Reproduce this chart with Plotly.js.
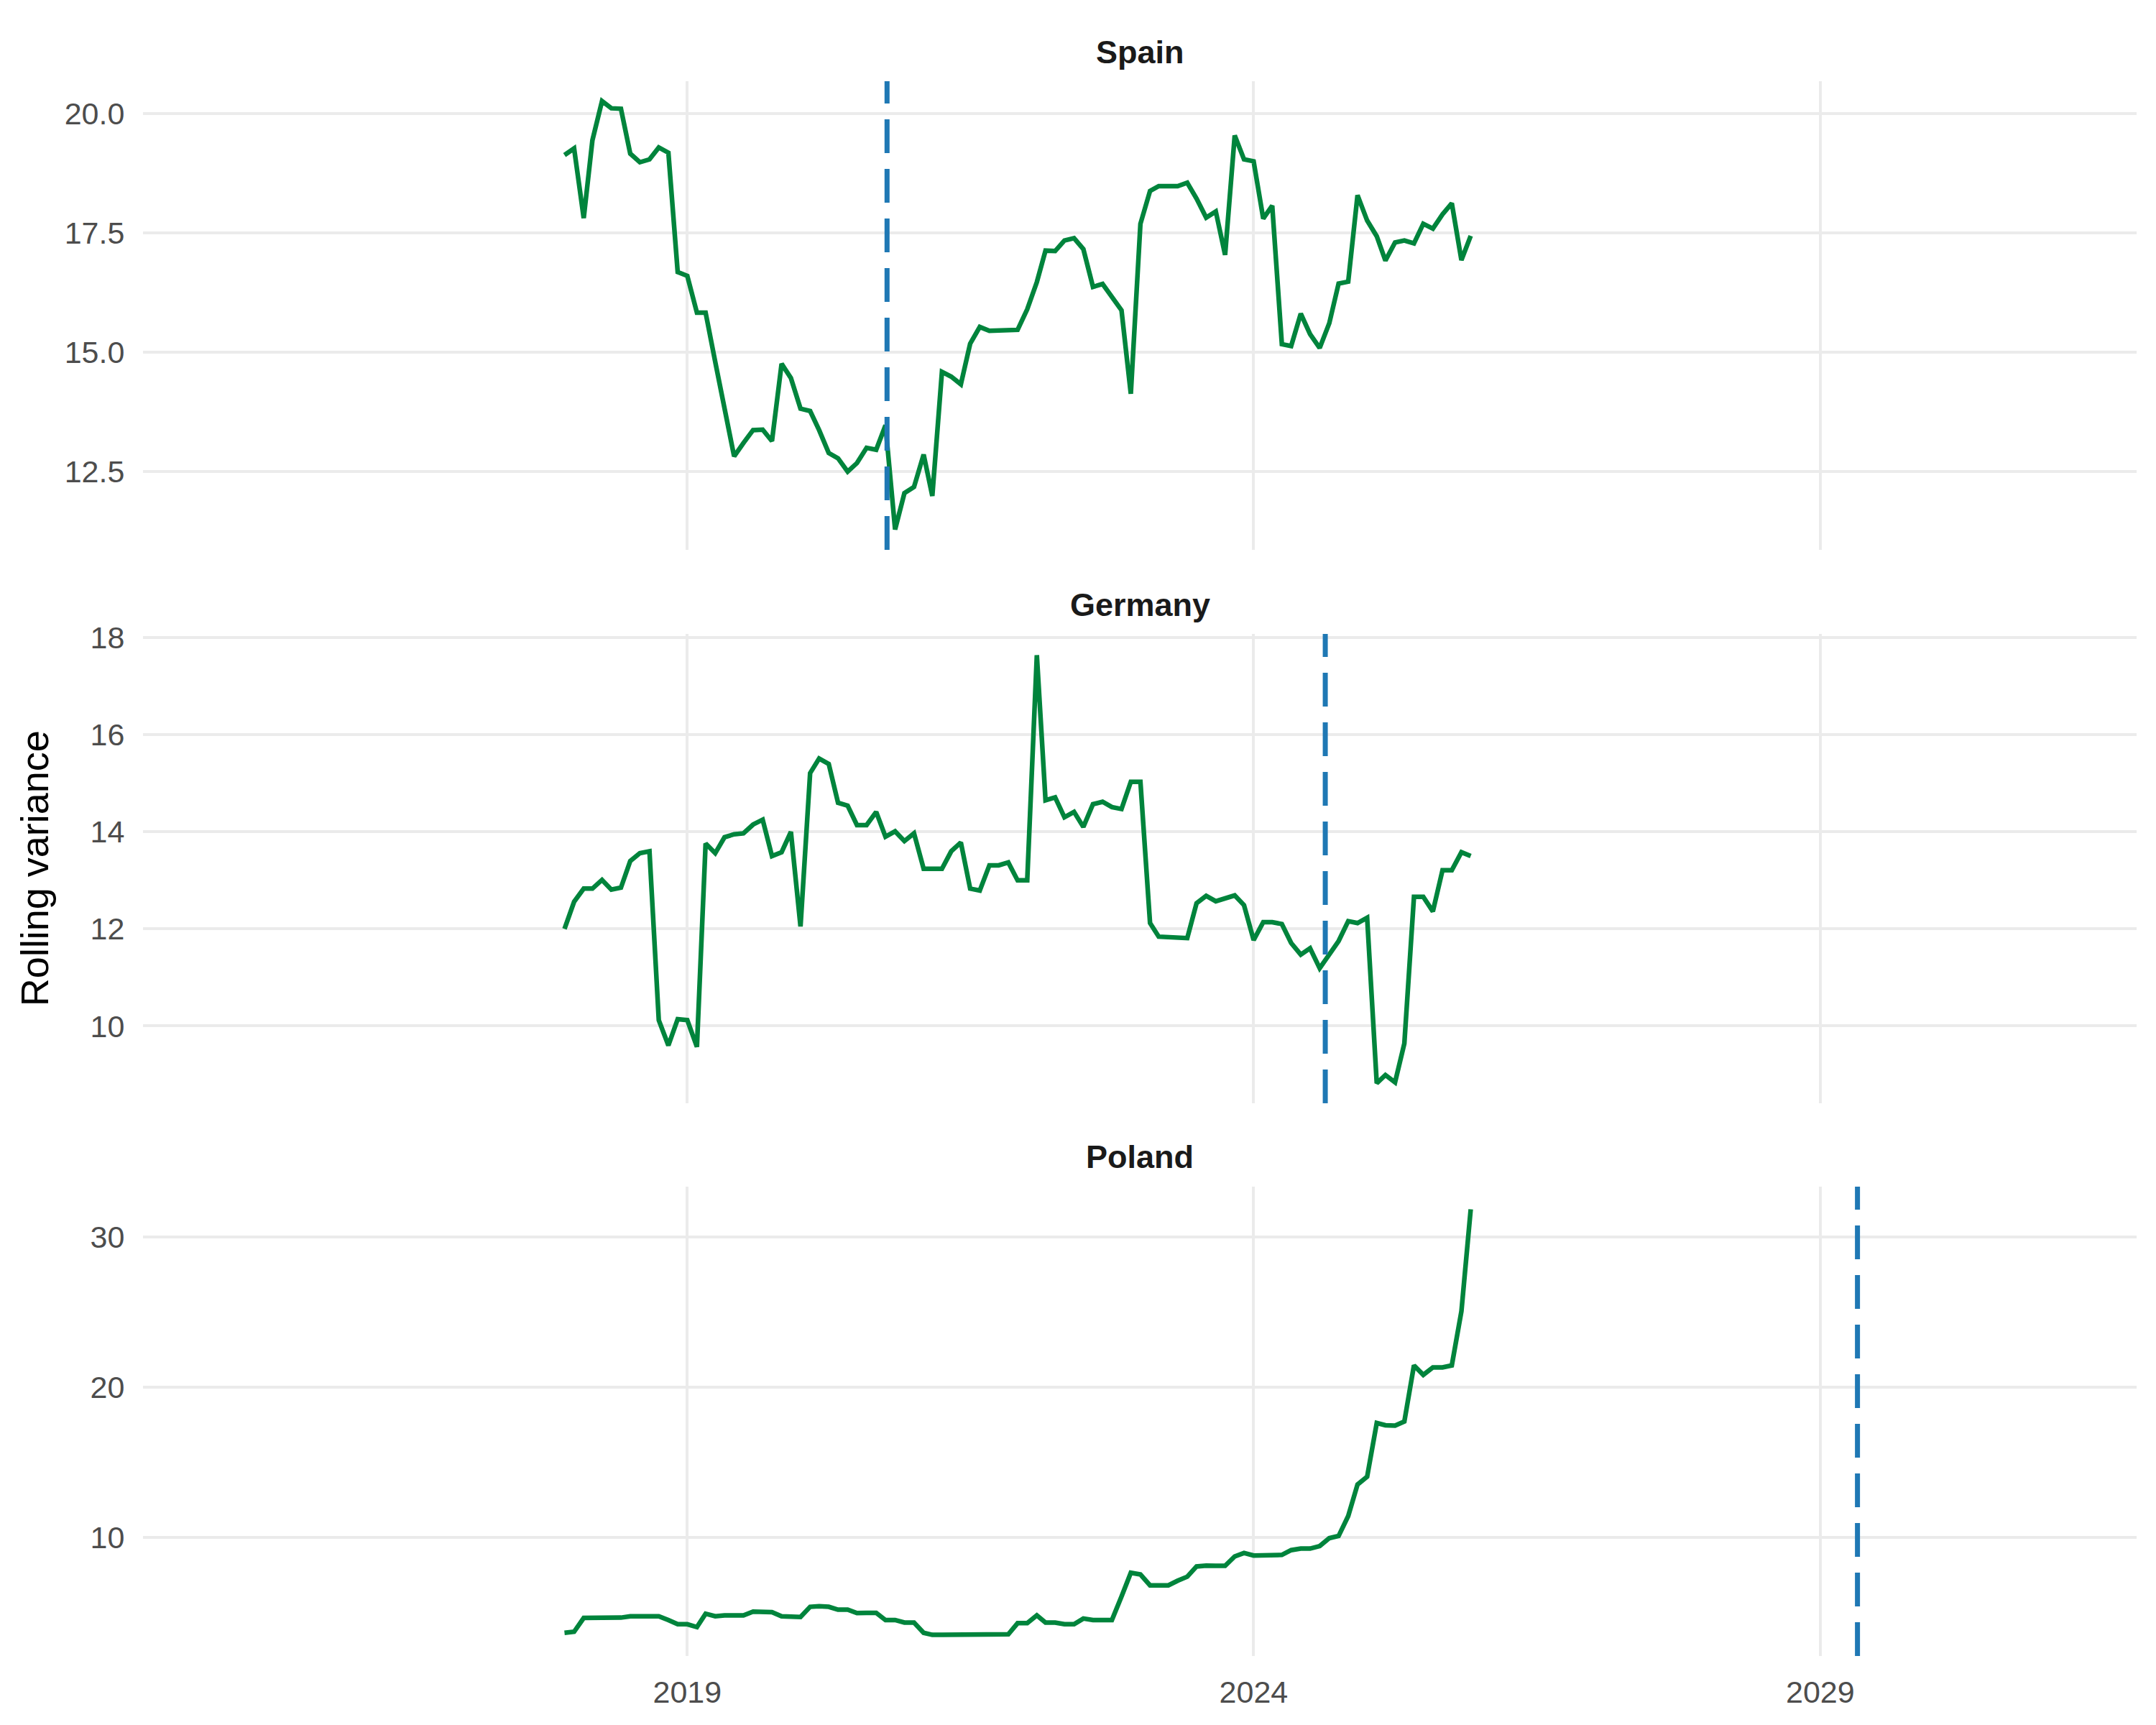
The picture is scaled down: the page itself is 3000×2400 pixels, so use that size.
<!DOCTYPE html>
<html>
<head>
<meta charset="utf-8">
<script src="https://cdn.plot.ly/plotly-3.0.1.min.js"></script>
<style>
  body { margin: 0; background: #fff; }
  #chart { width: 3000px; height: 2400px; }
</style>
</head>
<body>
<div id="chart"></div>
<script>
'use strict';

// monthly observations, Dec 2017 .. Dec 2025
var months = [
  '2017-12',
  '2018-01','2018-02','2018-03','2018-04','2018-05','2018-06','2018-07','2018-08','2018-09','2018-10','2018-11','2018-12',
  '2019-01','2019-02','2019-03','2019-04','2019-05','2019-06','2019-07','2019-08','2019-09','2019-10','2019-11','2019-12',
  '2020-01','2020-02','2020-03','2020-04','2020-05','2020-06','2020-07','2020-08','2020-09','2020-10','2020-11','2020-12',
  '2021-01','2021-02','2021-03','2021-04','2021-05','2021-06','2021-07','2021-08','2021-09','2021-10','2021-11','2021-12',
  '2022-01','2022-02','2022-03','2022-04','2022-05','2022-06','2022-07','2022-08','2022-09','2022-10','2022-11','2022-12',
  '2023-01','2023-02','2023-03','2023-04','2023-05','2023-06','2023-07','2023-08','2023-09','2023-10','2023-11','2023-12',
  '2024-01','2024-02','2024-03','2024-04','2024-05','2024-06','2024-07','2024-08','2024-09','2024-10','2024-11','2024-12',
  '2025-01','2025-02','2025-03','2025-04','2025-05','2025-06','2025-07','2025-08','2025-09','2025-10','2025-11','2025-12'
];

var spainVar = [
  19.13, 19.27, 17.81, 19.44, 20.26, 20.11, 20.10, 19.16, 18.98, 19.04, 19.29, 19.18,
  16.68, 16.60, 15.83, 15.83, 14.80, 13.83, 12.82, 13.10, 13.37, 13.38, 13.14, 14.76,
  14.46, 13.82, 13.77, 13.37, 12.89, 12.78, 12.50, 12.68, 13.00, 12.96, 13.47, 11.29,
  12.05, 12.18, 12.86, 11.99, 14.59, 14.49, 14.33, 15.18, 15.53, 15.45, 15.45, 15.47,
  15.47, 15.90, 16.47, 17.13, 17.12, 17.34, 17.39, 17.16, 16.37, 16.43, 16.14, 15.88,
  14.13, 17.69, 18.38, 18.48, 18.48, 18.48, 18.55, 18.22, 17.82, 17.95, 17.04, 19.54,
  19.04, 19.00, 17.80, 18.07, 15.17, 15.13, 15.81, 15.38, 15.09, 15.61, 16.44, 16.48,
  18.29, 17.76, 17.43, 16.92, 17.30, 17.34, 17.28, 17.69, 17.59, 17.89, 18.12, 16.93, 17.44
];

var germanyVar = [
  12.00, 12.56, 12.83, 12.83, 13.01, 12.81, 12.85, 13.40, 13.56, 13.60, 10.12, 9.60,
  10.14, 10.12, 9.57, 13.76, 13.56, 13.89, 13.95, 13.97, 14.15, 14.25, 13.50, 13.58,
  14.00, 12.05, 15.21, 15.51, 15.40, 14.60, 14.54, 14.14, 14.14, 14.41, 13.90, 14.01,
  13.81, 13.97, 13.24, 13.24, 13.24, 13.60, 13.78, 12.83, 12.79, 13.31, 13.31, 13.37,
  13.00, 13.00, 17.64, 14.65, 14.71, 14.30, 14.41, 14.10, 14.57, 14.62, 14.51, 14.47,
  15.03, 15.03, 12.12, 11.84, 11.83, 11.83, 11.81, 12.53, 12.68, 12.57, 12.64, 12.69,
  12.49, 11.77, 12.14, 12.14, 12.10, 11.71, 11.47, 11.60, 11.19, 11.49, 11.75, 12.16,
  12.12, 12.23, 8.82, 8.99, 8.84, 9.64, 12.66, 12.66, 12.36, 13.21, 13.21, 13.58, 13.50
];

var polandVar = [
  3.63, 3.70, 4.62, 4.62, 4.64, 4.64, 4.64, 4.73, 4.73, 4.73, 4.73, 4.48,
  4.20, 4.20, 4.01, 4.90, 4.73, 4.79, 4.79, 4.79, 5.04, 5.04, 5.00, 4.73,
  4.68, 4.68, 5.36, 5.40, 5.36, 5.17, 5.17, 4.94, 4.96, 4.96, 4.48, 4.48,
  4.31, 4.31, 3.63, 3.49, 3.49, 3.49, 3.49, 3.49, 3.49, 3.49, 3.49, 3.53,
  4.27, 4.27, 4.79, 4.31, 4.31, 4.20, 4.20, 4.58, 4.48, 4.48, 4.48, 6.05,
  7.63, 7.52, 6.79, 6.79, 6.79, 7.10, 7.37, 8.05, 8.11, 8.09, 8.09, 8.72,
  8.95, 8.78, 8.78, 8.82, 8.82, 9.14, 9.24, 9.24, 9.41, 9.94, 10.08, 11.41,
  13.51, 14.03, 17.61, 17.46, 17.44, 17.71, 21.45, 20.82, 21.32, 21.32, 21.45, 25.06, 31.85
];

var countries = ['Spain', 'Germany', 'Poland'];
var breakDates = ['2020-10-06', '2024-08-19', '2029-05-01'];

var xTickVals = ['2019-01-01', '2024-01-01', '2029-01-01'];
var xTickText = ['2019', '2024', '2029'];
var spainTicks = [12.5, 15.0, 17.5, 20.0];
var germanyTicks = [10, 12, 14, 16, 18];
var polandTicks = [10, 20, 30];

var series = [spainVar, germanyVar, polandVar];
var yTicks = [spainTicks, germanyTicks, polandTicks];
var yRanges = [[10.862, 20.677], [8.408, 18.077], [2.083, 33.357]];
var domains = [[0.7024, 1.0], [0.3510, 0.6490], [0.0, 0.2980]];
var stripY = [1.0184, 0.6673, 0.3172];

var font = 'Liberation Sans, Arial, sans-serif';
var green = '#00843C';
var blue = '#1F78B4';
var grid = '#EBEBEB';

var traces = [];
var layout = {
  width: 3000,
  height: 2400,
  margin: {l: 199, r: 27, t: 113, b: 96},
  paper_bgcolor: '#ffffff',
  plot_bgcolor: '#ffffff',
  showlegend: false,
  font: {family: font, color: '#4D4D4D'},
  shapes: [],
  annotations: []
};

for (let k = 0; k < 3; k++) {
  let sfx = k === 0 ? '' : String(k + 1);
  traces.push({
    type: 'scatter',
    mode: 'lines',
    x: months,
    y: series[k],
    xaxis: 'x' + sfx,
    yaxis: 'y' + sfx,
    line: {color: green, width: 6.5},
    hoverinfo: 'x+y'
  });

  layout['xaxis' + sfx] = {
    type: 'date',
    range: ['2014-03-13', '2031-10-18'],
    domain: [0, 1],
    anchor: 'y' + sfx,
    matches: k === 0 ? undefined : 'x',
    tickvals: xTickVals,
    ticktext: xTickText,
    showticklabels: k === 2,
    ticks: 'outside',
    ticklen: 12,
    tickcolor: 'rgba(0,0,0,0)',
    tickfont: {family: font, size: 43, color: '#4D4D4D'},
    showgrid: true,
    gridcolor: grid,
    gridwidth: 4,
    zeroline: false,
    showline: false
  };

  layout['yaxis' + sfx] = {
    domain: domains[k],
    anchor: 'x' + sfx,
    range: yRanges[k],
    tickvals: yTicks[k],
    ticktext: yTicks[k].map(v => k === 0 ? v.toFixed(1) : String(v)),
    ticks: 'outside',
    ticklen: 16,
    tickcolor: 'rgba(0,0,0,0)',
    tickfont: {family: font, size: 43, color: '#4D4D4D'},
    showgrid: true,
    gridcolor: grid,
    gridwidth: 4,
    zeroline: false,
    showline: false
  };

  // dashed break line, drawn bottom to top like ggplot
  layout.shapes.push({
    type: 'line',
    xref: 'x' + sfx,
    yref: 'y' + sfx + ' domain',
    x0: breakDates[k], x1: breakDates[k],
    y0: 0, y1: 1,
    line: {color: blue, width: 7, dash: '47px,22px'},
    layer: 'above'
  });

  layout.annotations.push({
    text: '<b>' + countries[k] + '</b>',
    xref: 'paper', yref: 'paper',
    x: 0.5, y: stripY[k],
    xanchor: 'center', yanchor: 'middle',
    showarrow: false,
    font: {family: font, size: 45, color: '#1A1A1A'}
  });
}

layout.annotations.push({
  text: 'Rolling variance',
  xref: 'paper', yref: 'paper',
  x: -0.0545, y: 0.5,
  xanchor: 'center', yanchor: 'middle',
  textangle: -90,
  showarrow: false,
  font: {family: font, size: 54, color: '#000000'}
});

Plotly.newPlot('chart', traces, layout, {staticPlot: true});
</script>
</body>
</html>
